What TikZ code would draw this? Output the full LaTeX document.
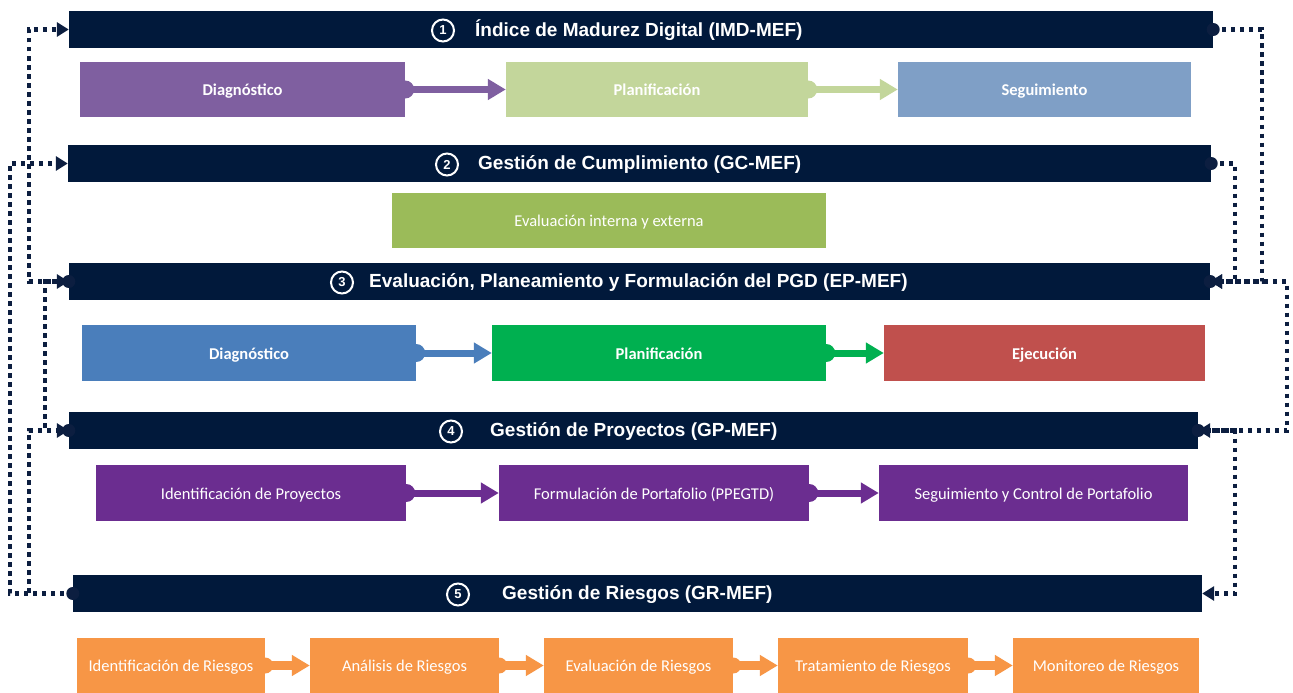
\documentclass[tikz,border=0pt]{standalone}
\usepackage{fontspec}
\setmainfont{Carlito}
\newfontfamily\hfont{Liberation Sans}
\usetikzlibrary{arrows.meta}
\definecolor{navy}{RGB}{1,25,59}
\definecolor{dotc}{RGB}{12,30,64}
\definecolor{cpurple}{HTML}{7F5FA0}
\definecolor{clgreen}{HTML}{C3D69B}
\definecolor{clblue}{HTML}{7F9FC6}
\definecolor{colive}{HTML}{9BBB59}
\definecolor{cblue}{HTML}{4A7EBB}
\definecolor{cgreen}{HTML}{00B050}
\definecolor{cred}{HTML}{C0504D}
\definecolor{cviolet}{HTML}{6B2D90}
\definecolor{corange}{HTML}{F79646}
\newcommand\subflow[5]{%
  \fill[#3] (#1.east) circle (#4);
  \draw[#3, line width=#5, -{Triangle[length=18pt,width=20pt]}] (#1.east) -- (#2.west);}
\begin{document}
\begin{tikzpicture}[x=1pt,y=-1pt,
  hdr/.style={fill=navy, draw=none, minimum height=37pt, inner sep=0pt},
  box/.style={draw=none, minimum height=55pt, inner sep=0pt, text=white, text height=12.5pt, text depth=0pt, font=\fontsize{16.5}{18}\selectfont},
  bbox/.style={box, font=\bfseries\fontsize{16.5}{18}\selectfont},
  htxt/.style={text=white, font=\hfont\bfseries\fontsize{19}{21}\selectfont, anchor=west, inner sep=0pt},
  numc/.style={circle, draw=white, line width=2pt, minimum size=22pt, inner sep=0pt, text=white, font=\hfont\bfseries\fontsize{13}{13}\selectfont},
  conn/.style={dotc, line width=4.4pt, dash pattern=on 4.2pt off 4.8pt, -{Triangle[length=12pt,width=14pt]}}
]
\useasboundingbox (0,0) rectangle (1293,693);
\fill[white] (0,0) rectangle (1293,693);

% headers
\node[hdr, minimum width=1144pt] (h1) at (641,29.5) {};
\node[hdr, minimum width=1143pt] (h2) at (639.5,163.5) {};
\node[hdr, minimum width=1141pt] (h3) at (639.5,281.5) {};
\node[hdr, minimum width=1129pt] (h4) at (633.5,430.5) {};
\node[hdr, minimum width=1129pt] (h5) at (637.5,593.5) {};

\node[numc] (n1) at (443,30.5) {1};
\node[htxt] (t1) at (475,30.5) {Índice de Madurez Digital (IMD-MEF)};
\node[numc] (n2) at (447,164.5) {2};
\node[htxt] (t2) at (478,164.5) {Gestión de Cumplimiento (GC-MEF)};
\node[numc] (n3) at (342,282.5) {3};
\node[htxt] (t3) at (369,282.5) {Evaluación, Planeamiento y Formulación del PGD (EP-MEF)};
\node[numc] (n4) at (451,431.5) {4};
\node[htxt] (t4) at (490,431.5) {Gestión de Proyectos (GP-MEF)};
\node[numc] (n5) at (458,594.5) {5};
\node[htxt] (t5) at (502,594.5) {Gestión de Riesgos (GR-MEF)};

% row 1
\node[bbox, fill=cpurple, minimum width=325pt] (a1) at (242.5,89.5) {Diagnóstico};
\node[bbox, fill=clgreen, minimum width=302pt] (a2) at (657,89.5) {Planificación};
\node[bbox, fill=clblue, minimum width=293pt] (a3) at (1044.5,89.5) {Seguimiento};
\subflow{a1}{a2}{cpurple}{9pt}{7pt}
\subflow{a2}{a3}{clgreen}{9pt}{7pt}

% row 2
\node[box, fill=colive, minimum width=434pt] (b1) at (609,220.5) {Evaluación interna y externa};

% row 3
\node[bbox, fill=cblue, minimum width=334pt, minimum height=56pt] (c1) at (249,353) {Diagnóstico};
\node[bbox, fill=cgreen, minimum width=334pt, minimum height=56pt] (c2) at (659,353) {Planificación};
\node[bbox, fill=cred, minimum width=321pt, minimum height=56pt] (c3) at (1044.5,353) {Ejecución};
\subflow{c1}{c2}{cblue}{9pt}{7pt}
\subflow{c2}{c3}{cgreen}{9pt}{7pt}

% row 4
\node[box, fill=cviolet, minimum width=310pt, minimum height=56pt] (d1) at (251,493) {Identificación de Proyectos};
\node[box, fill=cviolet, minimum width=310pt, minimum height=56pt] (d2) at (654,493) {Formulación de Portafolio (PPEGTD)};
\node[box, fill=cviolet, minimum width=309pt, minimum height=56pt] (d3) at (1033.5,493) {Seguimiento y Control de Portafolio};
\subflow{d1}{d2}{cviolet}{9pt}{7pt}
\subflow{d2}{d3}{cviolet}{9pt}{7pt}

% row 5
\node[box, fill=corange, minimum width=188pt] (e1) at (171,665.5) {Identificación de Riesgos};
\node[box, fill=corange, minimum width=189pt] (e2) at (404.5,665.5) {Análisis de Riesgos};
\node[box, fill=corange, minimum width=189pt] (e3) at (638.5,665.5) {Evaluación de Riesgos};
\node[box, fill=corange, minimum width=190pt] (e4) at (873,665.5) {Tratamiento de Riesgos};
\node[box, fill=corange, minimum width=186pt] (e5) at (1106,665.5) {Monitoreo de Riesgos};
\subflow{e1}{e2}{corange}{8pt}{9pt}
\subflow{e2}{e3}{corange}{8pt}{9pt}
\subflow{e3}{e4}{corange}{8pt}{9pt}
\subflow{e4}{e5}{corange}{8pt}{9pt}

% left connectors
\draw[conn] (h3.west) -- ++(-40,0) |- (h1.west);
\draw[conn] (h5.west) -- ++(-63,0) |- (h2.west);
\draw[conn] (h4.west) -- ++(-24,0) |- (h3.west);
\draw[conn] (h5.west) -- ++(-44,0) |- (h4.west);
% right connectors
\draw[conn] (h1.east) -- ++(49,0) |- (h3.east);
\draw[conn] (h2.east) -- ++(24,0) |- (h3.east);
\draw[conn] (h3.east) -- ++(77,0) |- (h4.east);
\draw[conn] (h4.east) -- ++(37,0) |- (h5.east);
% start markers
\foreach \p in {h3.west,h4.west,h5.west,h1.east,h2.east,h3.east,h4.east}
  \fill[dotc] (\p) circle (6.5pt);
\end{tikzpicture}
\end{document}
